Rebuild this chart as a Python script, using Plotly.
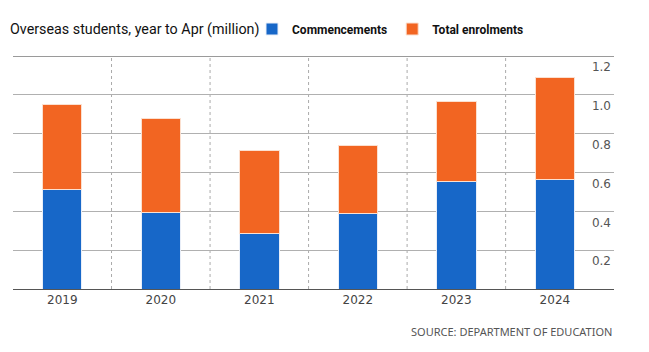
import plotly.graph_objects as go

years = ["2019", "2020", "2021", "2022", "2023", "2024"]
commencements = [0.51, 0.395, 0.285, 0.39, 0.555, 0.565]
total_enrolments = [0.95, 0.88, 0.715, 0.74, 0.965, 1.09]
y_ticks = [0.2, 0.4, 0.6, 0.8, 1.0, 1.2]

BLUE = "#1767c8"
ORANGE = "#f26522"
TITLE_FONT = "Roboto, sans-serif"

remainder = [t - c for t, c in zip(total_enrolments, commencements)]
xs = list(range(len(years)))

fig = go.Figure()
fig.add_trace(go.Bar(x=xs, y=commencements, name="<b>Commencements</b>", width=0.4,
                     marker=dict(color=BLUE, line=dict(color="#e8eef8", width=1))))
fig.add_trace(go.Bar(x=xs, y=remainder, name="<b>Total enrolments</b>", width=0.4,
                     customdata=total_enrolments,
                     hovertemplate="%{customdata}<extra>Total enrolments</extra>",
                     marker=dict(color=ORANGE, line=dict(color="#fbe0d0", width=1))))

# dotted separators between years
for i in range(len(years) - 1):
    fig.add_shape(type="line", xref="x", yref="y", x0=i + 0.5, x1=i + 0.5,
                  y0=0, y1=y_ticks[-1], line=dict(color="#aaaaaa", width=1, dash="dot"), layer="below")
# heavier top rule
fig.add_shape(type="line", xref="paper", yref="y", x0=0, x1=1, y0=y_ticks[-1], y1=y_ticks[-1],
              line=dict(color="#9a9a9a", width=2))

fig.update_layout(
    width=649, height=352,
    margin=dict(l=13, r=35, t=56, b=63),
    paper_bgcolor="white", plot_bgcolor="white",
    barmode="stack",
    title=dict(text="Overseas students, year to Apr (million)", x=10 / 649, xanchor="left",
               xref="container", yref="container", y=1 - 29 / 352, yanchor="middle",
               font=dict(family=TITLE_FONT, size=14.3, color="#111111")),
    legend=dict(orientation="h", xref="container", yref="container", x=252 / 649, y=1 - 29 / 352,
                xanchor="left", yanchor="middle", font=dict(family=TITLE_FONT, size=12, color="#111111"),
                itemwidth=30, traceorder="normal", bgcolor="rgba(0,0,0,0)"),
    showlegend=True,
    xaxis=dict(range=[-0.5, 5.6], tickmode="array", tickvals=xs, ticktext=years,
               showgrid=False, zeroline=False, showline=True, linecolor="#555555", linewidth=1,
               ticks="", tickfont=dict(family="DejaVu Sans", size=12, color="#444444")),
    yaxis=dict(range=[0, 1.2], side="right", tickvals=y_ticks, tickformat=".1f",
               ticklabelposition="inside", ticklabelshift=11,
               showgrid=True, gridcolor="#b0b0b0", gridwidth=1, zeroline=False, showline=False,
               tickfont=dict(family="DejaVu Sans", size=12, color="#555555")),
    annotations=[dict(text="SOURCE: DEPARTMENT OF EDUCATION", xref="paper", yref="paper",
                      x=1, y=(288.7 - 330.7) / 232.7, xanchor="right", yanchor="middle",
                      showarrow=False, font=dict(family="Noto Sans", size=11, color="#555555"))],
)

fig.write_html("out.html")
